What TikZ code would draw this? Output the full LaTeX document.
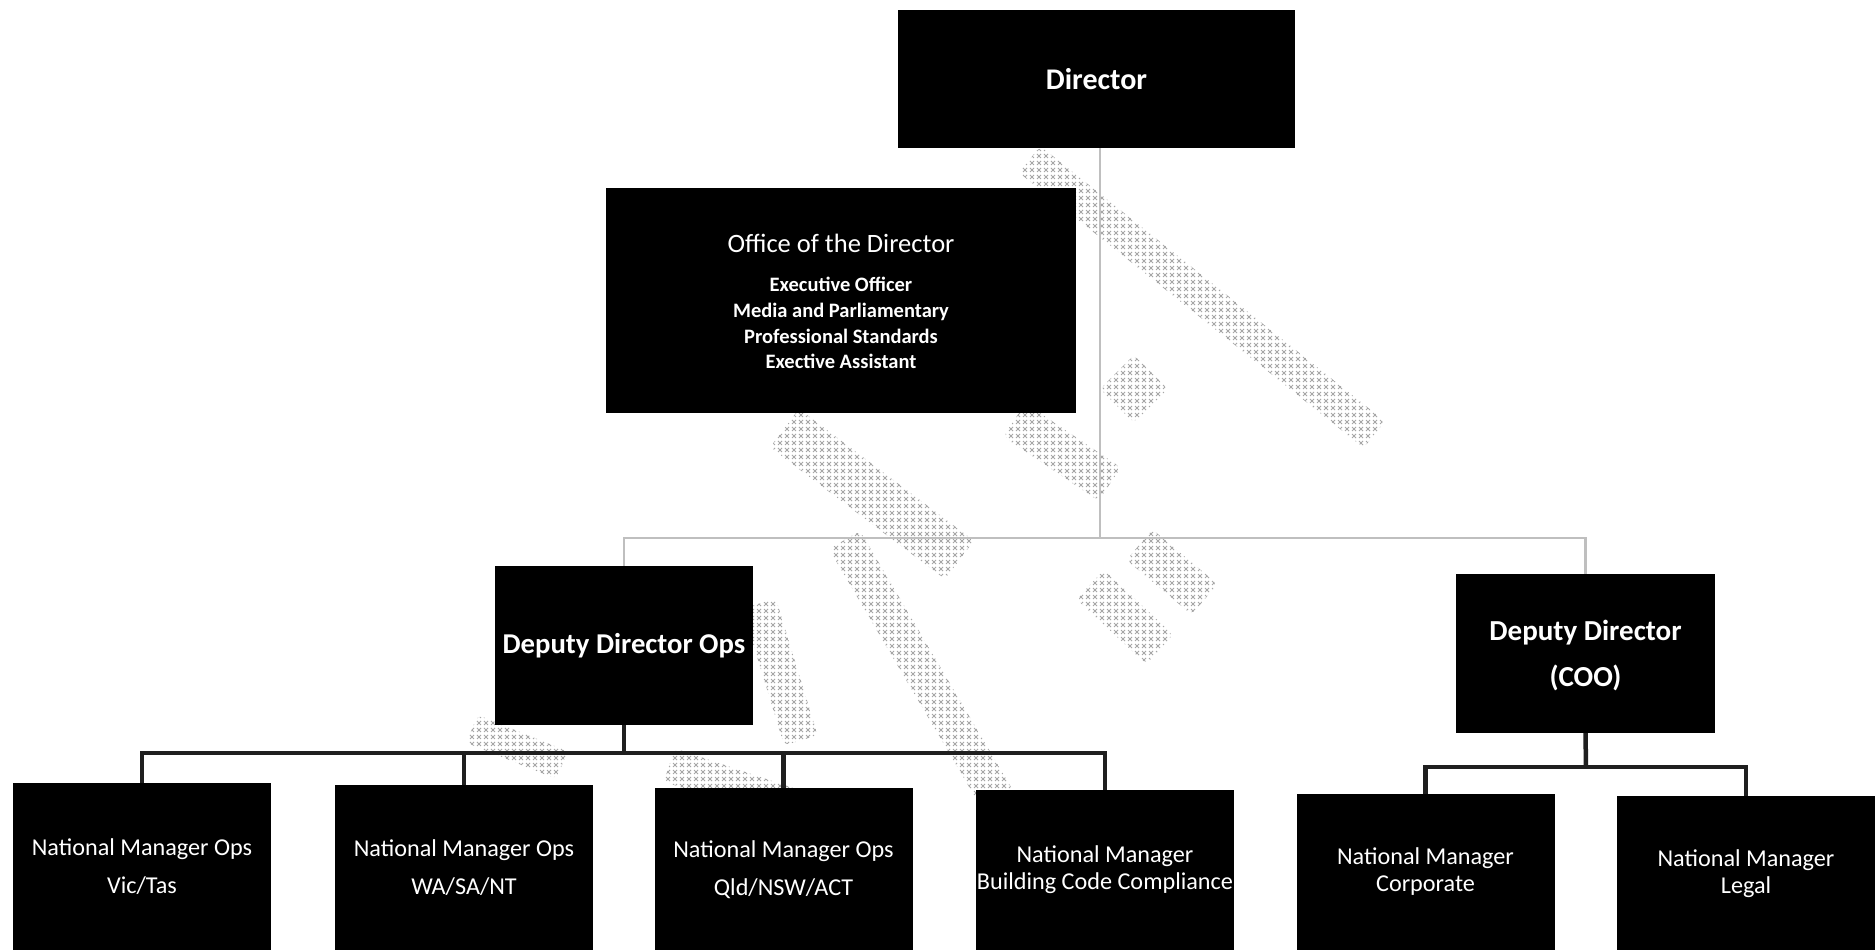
\documentclass[tikz,border=0pt]{standalone}
\usepackage{fontspec}
\setmainfont{Carlito}
\usetikzlibrary{patterns}

% small x marks on a 7pt grid, used for the faded stamp
\pgfdeclarepatternformonly{stampx}{\pgfqpoint{-1pt}{-1pt}}{\pgfqpoint{8pt}{8pt}}{\pgfqpoint{7pt}{7pt}}{%
  \pgfsetlinewidth{0.8pt}%
  \pgfpathmoveto{\pgfqpoint{1pt}{1pt}}\pgfpathlineto{\pgfqpoint{5pt}{5pt}}%
  \pgfpathmoveto{\pgfqpoint{1pt}{5pt}}\pgfpathlineto{\pgfqpoint{5pt}{1pt}}%
  \pgfusepath{stroke}}

\tikzset{
  box/.style={fill=black, draw=none, text=white, inner sep=0pt, align=center},
  bottombox/.style={box, minimum width=258pt, minimum height=175pt, anchor=north},
  boxtext/.style={text=white, inner sep=0pt, align=center},
  upline/.style={draw=gray!50, line width=2.5pt},
  downline/.style={draw=black!88, line width=4.5pt},
  stamp/.style={pattern=stampx, pattern color=gray!70, draw=none, inner sep=0pt, rounded corners=6pt},
  nmtext/.style={boxtext, font=\fontsize{24.2}{38}\selectfont},
  nmtight/.style={boxtext, font=\fontsize{24.2}{27}\selectfont},
}

\begin{document}
\begin{tikzpicture}[x=1pt, y=-1pt]
\useasboundingbox (0,0) rectangle (1875,950);
\fill[white] (0,0) rectangle (1875,950);

% faded stamp in the background
\node[stamp, rotate=-38.6, minimum width=441pt, minimum height=34pt] (wm1) at (1202,297) {};
\node[stamp, rotate=45, minimum width=48pt, minimum height=48pt] (wm2) at (1134,389) {};
\node[stamp, rotate=-37, minimum width=219pt, minimum height=48pt] (wm3) at (872,494) {};
\node[stamp, rotate=-59.5, minimum width=325pt, minimum height=36pt] (wm4) at (927,680) {};
\node[stamp, rotate=-43, minimum width=95pt, minimum height=40pt] (wm5) at (1125,617) {};
\node[stamp, rotate=-40, minimum width=85pt, minimum height=40pt] (wm6) at (1172,572) {};
\node[stamp, rotate=-34, minimum width=115pt, minimum height=40pt] (wm7) at (1062,452) {};
\node[stamp, rotate=-73, minimum width=143pt, minimum height=35pt] (wm8) at (780,672) {};
\node[stamp, rotate=-22, minimum width=97pt, minimum height=30pt] (wm9) at (517,747) {};
\node[stamp, rotate=-18.5, minimum width=227pt, minimum height=35pt] (wm10) at (777,801) {};

% top level
\node[box, minimum width=397pt, minimum height=138pt, font=\bfseries\fontsize{30}{36}\selectfont] (dir) at (1096.5,79) {Director};

\node[box, minimum width=470pt, minimum height=225pt] (office) at (841,300.5) {};
\node[boxtext, font=\fontsize{26.5}{32}\selectfont] (officetitle) at (841,243) {Office of the Director};
\node[boxtext, font=\bfseries\fontsize{20.5}{25.9}\selectfont] (officelist) at (841,323) {Executive Officer\\Media and Parliamentary\\Professional Standards\\Exective Assistant};

% deputies
\node[box, minimum width=258pt, minimum height=159pt, font=\bfseries\fontsize{28.7}{34}\selectfont] (ddo) at (624,645.5) {Deputy Director Ops};
\node[box, minimum width=259pt, minimum height=159pt] (ddc) at (1585.5,653.5) {};
\node[boxtext, font=\bfseries\fontsize{29}{46}\selectfont] (ddctext) at (1585.5,655.5) {Deputy Director\\(COO)};

% national managers
\node[bottombox] (vic) at (142,783) {};
\node[bottombox] (wa) at (464,785) {};
\node[bottombox] (qld) at (783.5,788) {};
\node[bottombox] (bcc) at (1105,790) {};
\node[bottombox] (corp) at (1425.5,794) {};
\node[bottombox] (legal) at (1746,796) {};
\node[nmtext] (victext) at (142,866.5) {National Manager Ops\\Vic/Tas};
\node[nmtext] (watext) at (464,867.7) {National Manager Ops\\WA/SA/NT};
\node[nmtext] (qldtext) at (783.5,870) {National Manager Ops\\Qld/NSW/ACT};
\node[nmtight] (bcctext) at (1105,869.4) {National Manager\\Building Code Compliance};
\node[nmtight] (corptext) at (1425.5,871.8) {National Manager\\Corporate};
\node[nmtight] (legaltext) at (1746,873.6) {National Manager\\Legal};

% bus points
\coordinate (topbus) at (1100,538);
\coordinate (opsbus) at (624,753);
\coordinate (coobus) at (1586,767);

% connectors: director to deputies
\draw[upline] (dir.south -| topbus) -- (topbus);
\draw[upline] (ddo.north) |- (topbus) -| (ddc.north);

% connectors: ops
\draw[downline] (ddo.south) -- (opsbus);
\draw[downline] (vic.north) |- (opsbus) -| (bcc.north);
\draw[downline] (wa.north) -- (wa.north |- opsbus);
\draw[downline] (qld.north) -- (qld.north |- opsbus);

% connectors: COO
\draw[downline] (ddc.south) -- (coobus);
\draw[downline] (corp.north) |- (coobus) -| (legal.north);
\end{tikzpicture}
\end{document}
